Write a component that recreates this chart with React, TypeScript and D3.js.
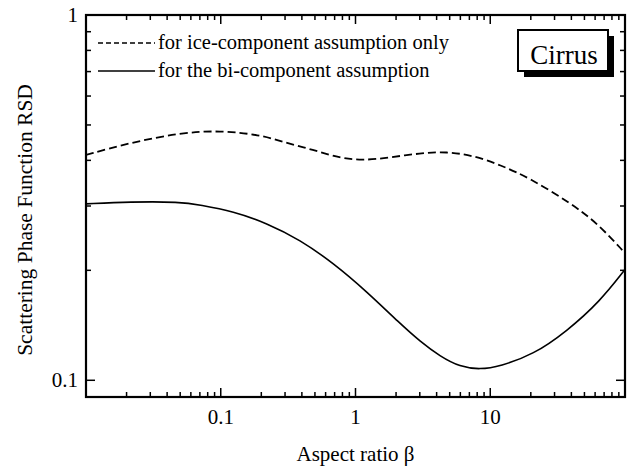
import React from "react";
import * as d3 from "d3";

const iceX = [0.01, 0.0212, 0.05, 0.099, 0.195, 0.291, 0.486, 0.767, 1.143, 1.80, 3.01, 4.75, 7.49, 11.8, 19.7, 39.1, 62.0, 100];
const iceY = [0.414, 0.447, 0.476, 0.483, 0.470, 0.449, 0.4274, 0.4057, 0.3996, 0.4073, 0.4186, 0.4228, 0.4123, 0.389, 0.3576, 0.306, 0.270, 0.223];
const biX = [0.01, 0.0212, 0.05, 0.0702, 0.1239, 0.2193, 0.387, 0.684, 1.211, 2.14, 3.01, 4.24, 5.96, 8.39, 11.8, 20.9, 36.9, 65.2, 100];
const biY = [0.304, 0.308, 0.308, 0.302, 0.290, 0.2694, 0.2425, 0.2094, 0.175, 0.143, 0.1278, 0.1163, 0.1088, 0.1070, 0.1092, 0.1176, 0.1361, 0.1644, 0.201];

const xMajor = [0.1, 1, 10];
const xMajorLabels = ["0.1", "1", "10"];
const yMajor = [0.1, 1];
const yMajorLabels = ["0.1", "1"];
const legendLabels = ["for ice-component assumption only", "for the bi-component assumption"];
const xTitle = "Aspect ratio β";
const yTitle = "Scattering Phase Function RSD";
const boxLabel = "Cirrus";

const W = 631, H = 469;
const L = 86, R = 625, T = 15, B = 397;
const FONT = "'Liberation Serif', 'DejaVu Serif', serif";

export default function App() {
  const x = d3.scaleLog().domain([0.01, 100]).range([L, R]);
  const y = d3.scaleLog().domain([0.09, 1]).range([B, T]);

  const xMinor: number[] = [];
  for (const dec of [0.01, 0.1, 1, 10]) for (let k = 2; k <= 9; k++) xMinor.push(dec * k);
  const yMinor: number[] = [];
  for (let k = 2; k <= 9; k++) yMinor.push(k / 10);

  const line = d3
    .line<[number, number]>()
    .x((d) => x(d[0]))
    .y((d) => y(d[1]))
    .curve(d3.curveBasis);

  const icePts = iceX.map((v, i) => [v, iceY[i]] as [number, number]);
  const biPts = biX.map((v, i) => [v, biY[i]] as [number, number]);

  const minorLen = 5, majorLen = 9;

  return (
    <svg width={W} height={H} style={{ position: "absolute", left: 0, top: 0, background: "#fff" }} fontFamily={FONT}>
      <rect x={0} y={0} width={W} height={H} fill="#fff" />
      <defs>
        <clipPath id="clip">
          <rect x={L} y={T} width={R - L} height={B - T} />
        </clipPath>
      </defs>
      <g clipPath="url(#clip)">
        <path d={line(icePts) || ""} fill="none" stroke="#000" strokeWidth={1.8} strokeDasharray="8,4" />
        <path d={line(biPts) || ""} fill="none" stroke="#000" strokeWidth={1.6} />
      </g>
      {/* ticks */}
      <g stroke="#000" strokeWidth={1.5}>
        {xMinor.map((v) => (
          <g key={"xm" + v}>
            <line x1={x(v)} x2={x(v)} y1={B} y2={B - minorLen} />
            <line x1={x(v)} x2={x(v)} y1={T} y2={T + minorLen} />
          </g>
        ))}
        {xMajor.map((v) => (
          <g key={"xM" + v}>
            <line x1={x(v)} x2={x(v)} y1={B} y2={B - majorLen} />
            <line x1={x(v)} x2={x(v)} y1={T} y2={T + majorLen} />
          </g>
        ))}
        {yMinor.map((v) => (
          <g key={"ym" + v}>
            <line x1={L} x2={L + minorLen} y1={y(v)} y2={y(v)} />
            <line x1={R} x2={R - minorLen} y1={y(v)} y2={y(v)} />
          </g>
        ))}
        {yMajor.map((v) => (
          <g key={"yM" + v}>
            <line x1={L} x2={L + majorLen} y1={y(v)} y2={y(v)} />
            <line x1={R} x2={R - majorLen} y1={y(v)} y2={y(v)} />
          </g>
        ))}
      </g>
      <rect x={L} y={T} width={R - L} height={B - T} fill="none" stroke="#000" strokeWidth={2.2} />
      {/* tick labels */}
      {xMajor.map((v, i) => (
        <text key={"xl" + v} x={x(v)} y={424} textAnchor="middle" fontSize={21}>
          {xMajorLabels[i]}
        </text>
      ))}
      {yMajor.map((v, i) => (
        <text key={"yl" + v} x={78} y={y(v) + 7} textAnchor="end" fontSize={21}>
          {yMajorLabels[i]}
        </text>
      ))}
      <text x={(L + R) / 2} y={461} textAnchor="middle" fontSize={21}>
        {xTitle}
      </text>
      <text transform={`translate(32, 220) rotate(-90)`} textAnchor="middle" fontSize={21.5}>
        {yTitle}
      </text>
      {/* legend */}
      <line x1={98} x2={155} y1={43} y2={43} stroke="#000" strokeWidth={1.5} strokeDasharray="5,3" />
      <text x={158} y={49} fontSize={20.5}>{legendLabels[0]}</text>
      <line x1={98} x2={155} y1={71} y2={71} stroke="#000" strokeWidth={1.6} />
      <text x={158} y={77} fontSize={20.5}>{legendLabels[1]}</text>
      {/* Cirrus box */}
      <rect x={524} y={36} width={90} height={41} fill="#000" />
      <rect x={518} y={30} width={90} height={41} fill="#fff" stroke="#000" strokeWidth={2} />
      <text x={564} y={64} textAnchor="middle" fontSize={27}>{boxLabel}</text>
    </svg>
  );
}
